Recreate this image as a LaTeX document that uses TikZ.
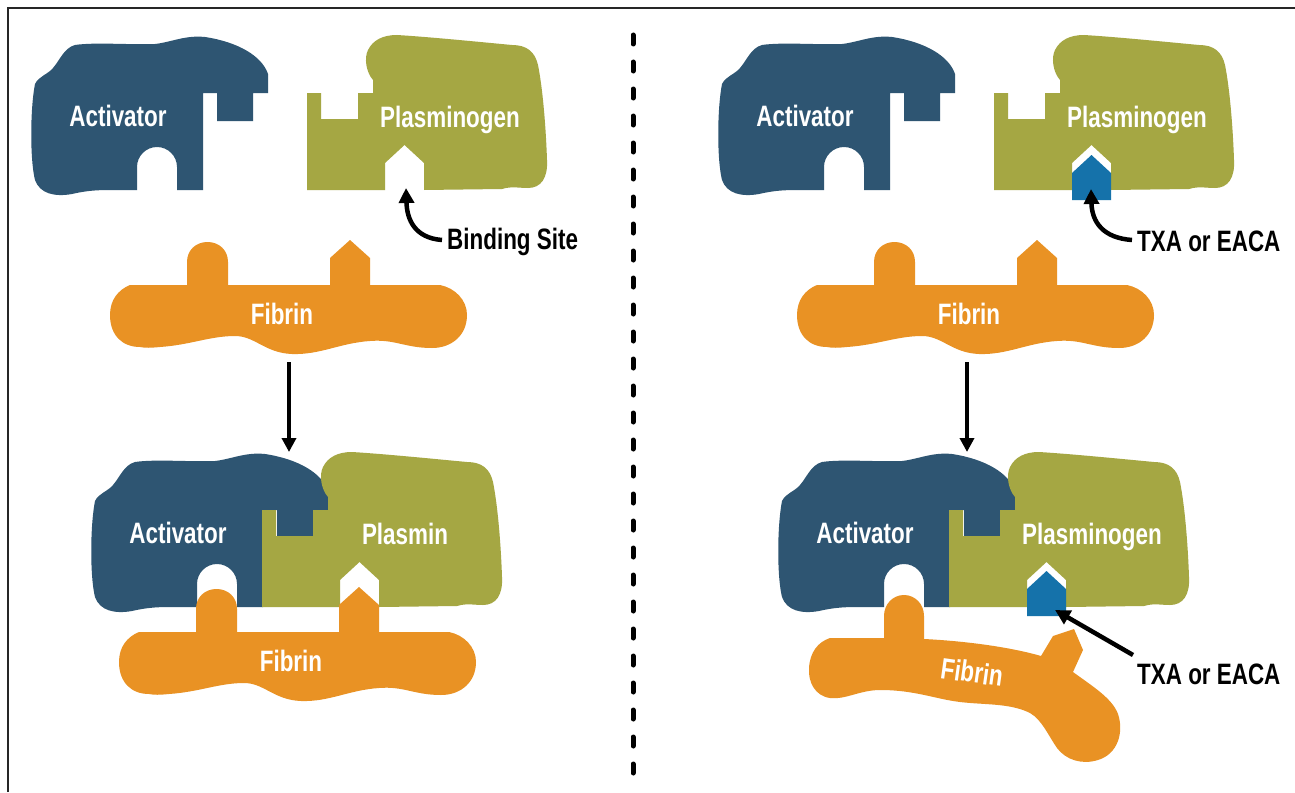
\documentclass[tikz,border=0pt]{standalone}
\usepackage{fontspec}
\newfontfamily\lblfont{Liberation Sans}[FakeStretch=0.76]
\usetikzlibrary{arrows.meta}
\definecolor{actblue}{HTML}{2E5572}
\definecolor{plgreen}{HTML}{A5A743}
\definecolor{fibor}{HTML}{E99224}
\definecolor{inhib}{HTML}{1572AA}
\begin{document}
\begin{tikzpicture}[x=1pt,y=-1pt,
  lbl/.style={font={\lblfont\bfseries\fontsize{29.5}{31}\selectfont}, text=white, inner sep=0pt, anchor=base},
  callout/.style={font={\lblfont\bfseries\fontsize{29.5}{31}\selectfont}, text=black, inner sep=0pt, anchor=base west},
  flow/.style={line width=4.5pt, -{Triangle[length=14pt,width=14pt]}},
  pointer/.style={line width=4.5pt, -{Triangle[length=15pt,width=15pt]}},
  activator/.pic={
    \fill[actblue] (203,190) -- (203,93) -- (217,93) -- (217,121) -- (253,121) -- (253,93) -- (268,93) -- (268,74)
      .. controls (262,56) and (238,42) .. (205,37)
      .. controls (185,35) and (172,42) .. (155,44)
      .. controls (130,45) and (95,42) .. (75,45)
      .. controls (64,48) and (60,60) .. (53,68)
      .. controls (47,75) and (39,76) .. (35,84)
      .. controls (30,110) and (30,160) .. (35,180)
      .. controls (40,194) and (55,197) .. (72,194)
      .. controls (85,191) and (95,190) .. (110,190)
      -- (137,190) -- (137,167) .. controls (137,156) and (146,147) .. (157,147)
      .. controls (168,147) and (177,156) .. (177,167) -- (177,190) -- cycle;
  },
  plasminogen/.pic={
    \fill[plgreen] (307,190) -- (307,93) -- (321,93) -- (321,119) -- (358,119) -- (358,93) -- (373,93) -- (373,80)
      .. controls (366,72) and (364,58) .. (368,50)
      .. controls (373,40) and (383,35) .. (397,35)
      .. controls (430,37) and (480,42) .. (512,45)
      .. controls (527,45) and (535,52) .. (538,65)
      .. controls (543,90) and (546,130) .. (547,160)
      .. controls (548,178) and (541,188) .. (528,188)
      .. controls (518,188) and (512,186) .. (502,189)
      -- (424,190) -- (424,163) -- (404.5,145) -- (385,163) -- (385,190) -- cycle;
  },
  fibrin/.pic={
    \fill[fibor] (130,285) -- (187,285) -- (187,262)
      .. controls (187,250) and (196,242) .. (207.5,242)
      .. controls (219,242) and (228,250) .. (228,262) -- (228,285)
      -- (330,285) -- (330,258) -- (350,240) -- (370,258) -- (370,285) -- (440,285)
      .. controls (455,288) and (467,300) .. (467,315)
      .. controls (467,335) and (452,348) .. (432,348)
      .. controls (405,348) and (395,339) .. (370,341)
      .. controls (340,343) and (320,355) .. (292,354)
      .. controls (265,353) and (255,336) .. (235,336)
      .. controls (210,336) and (190,345) .. (160,347)
      .. controls (150,348) and (145,348) .. (140,347)
      .. controls (122,347) and (110,335) .. (110,315)
      .. controls (110,300) and (118,290) .. (130,285) -- cycle;
  }]
\useasboundingbox (0,0) rectangle (1295,792);
\fill[white] (0,0) rectangle (1295,792);

% frame and divider
\draw[line width=2pt, black!85] (8,792) -- (8,8) -- (1295,8);
\coordinate (divtop) at (633,35);
\coordinate (divbot) at (633,775);
\draw[line width=5pt, line cap=round, dash pattern=on 9pt off 18pt] (divtop) -- (divbot);

% ---------- left: normal fibrinolysis ----------
\pic {activator};
\pic {plasminogen};
\pic {fibrin};
\node[lbl] (actL) at (118,126) {Activator};
\node[lbl] (plgL) at (450,127) {Plasminogen};
\node[lbl] (fibL) at (282,324) {Fibrin};
\node[callout] (bindL) at (447,249) {Binding Site};
\coordinate (bindtip) at (406,188);
\coordinate (bindstart) at ([xshift=-5pt, yshift=9pt]bindL.base west);
\draw[pointer] (bindstart) .. controls (415,238) and (407,220) .. (bindtip);

\coordinate (downLs) at (289,362);
\coordinate (downLe) at (289,452);
\draw[flow] (downLs) -- (downLe);

\pic at (60,417) {activator};
\pic at (-45,417) {plasminogen};
\pic at (9,347) {fibrin};
\node[lbl] (actLB) at (178,543) {Activator};
\node[lbl] (plmLB) at (405,544) {Plasmin};
\node[lbl] (fibLB) at (291,671) {Fibrin};

% ---------- right: with antifibrinolytic ----------
\pic at (687,0) {activator};
\pic at (687,0) {plasminogen};
\pic at (687,0) {fibrin};
\fill[inhib] (1072,200) -- (1072,173) -- (1091.5,155) -- (1111,173) -- (1111,200) -- cycle;
\node[lbl] (actR) at (805,126) {Activator};
\node[lbl] (plgR) at (1137,127) {Plasminogen};
\node[lbl] (fibR) at (969,324) {Fibrin};
\node[callout] (txaR) at (1137,251) {TXA or EACA};
\coordinate (txatip) at (1091,189);
\coordinate (txastart) at ([xshift=-5pt, yshift=11pt]txaR.base west);
\draw[pointer] (txastart) .. controls (1103,238) and (1092,222) .. (txatip);

\coordinate (downRs) at (967,362);
\coordinate (downRe) at (967,452);
\draw[flow] (downRs) -- (downRe);

\pic at (747,417) {activator};
\pic at (642,417) {plasminogen};
\fill[fibor] (830,638) -- (884,638) -- (884,616)
  .. controls (884,604) and (893,595) .. (904,595)
  .. controls (915,595) and (924,604) .. (924,616) -- (924,639)
  .. controls (965,641) and (1010,647) .. (1041,656)
  -- (1053,636) -- (1074,629) -- (1083,650) -- (1073,672)
  .. controls (1092,686) and (1112,698) .. (1118,714)
  .. controls (1124,732) and (1118,754) .. (1098,760)
  .. controls (1082,765) and (1066,760) .. (1057,748)
  .. controls (1048,735) and (1042,720) .. (1030,713)
  .. controls (1010,703) and (985,705) .. (960,702)
  .. controls (935,699) and (915,690) .. (880,690)
  .. controls (860,690) and (845,700) .. (830,698)
  .. controls (815,696) and (808,682) .. (809,668)
  .. controls (810,652) and (818,642) .. (830,638) -- cycle;
\fill[inhib] (1027,616) -- (1027,589) -- (1046.5,571) -- (1066,589) -- (1066,616) -- cycle;
\node[lbl] (actRB) at (865,543) {Activator};
\node[lbl] (plgRB) at (1092,544) {Plasminogen};
\node[lbl, anchor=center, rotate=-8] (fibRB) at (972,672) {Fibrin};
\node[callout] (txaRB) at (1137,684) {TXA or EACA};
\coordinate (txatip2) at (1055,610);
\coordinate (txastart2) at ([xshift=-4pt, yshift=29pt]txaRB.base west);
\draw[pointer] (txastart2) -- (txatip2);
\end{tikzpicture}
\end{document}
